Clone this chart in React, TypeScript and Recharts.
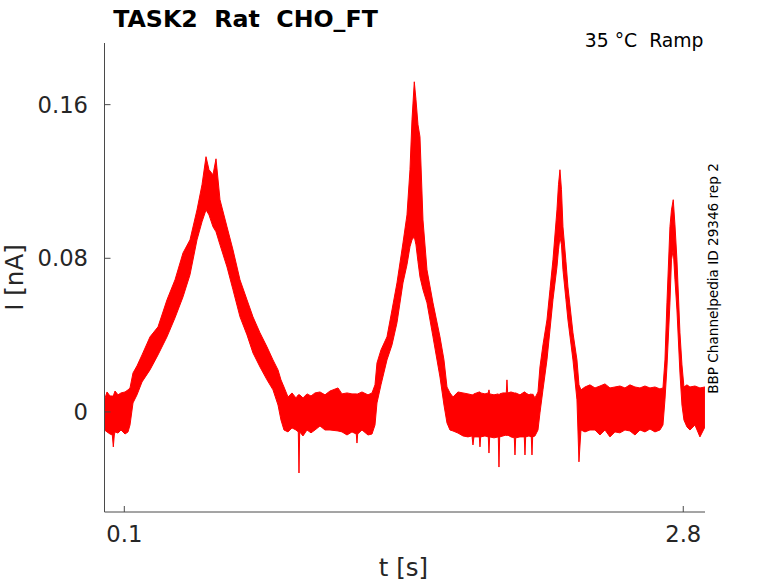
import React from "react";
import { ComposedChart, Area, XAxis, YAxis } from "recharts";

// time (s)
const tS = [
  0.0043, 0.0164, 0.0309, 0.042, 0.0469, 0.0517, 0.0551, 0.0696, 0.084, 0.1034, 0.1179, 0.1275,
  0.142, 0.1613, 0.1855, 0.2241, 0.2628, 0.3062, 0.3449, 0.3835, 0.4173, 0.4511, 0.4753, 0.4946,
  0.5091, 0.5284, 0.5429, 0.5622, 0.596, 0.625, 0.6588, 0.6926, 0.7216, 0.7554, 0.7892, 0.8182,
  0.8424, 0.8568,
  0.8713, 0.8907, 0.91, 0.9293, 0.9404, 0.9438, 0.9472, 0.9631, 0.9824, 1.0018, 1.0211, 1.0452,
  1.0694, 1.0935, 1.1322, 1.1515, 1.1757, 1.1998, 1.2205, 1.2239, 1.2273, 1.2481, 1.2771, 1.2964,
  1.3109,
  1.3205, 1.3398, 1.3688, 1.393, 1.4171, 1.4461, 1.4654, 1.4799, 1.4896, 1.5007, 1.5089, 1.5186,
  1.5282, 1.5427, 1.562, 1.591, 1.6248, 1.6441, 1.6586,
  1.6731, 1.6876, 1.7118, 1.7359, 1.7601, 1.7794, 1.7842, 1.789, 1.8147, 1.818, 1.8214, 1.8422,
  1.8581, 1.8615, 1.8649, 1.8857, 1.9064, 1.9098, 1.9132, 1.9291, 1.9451, 1.9484, 1.9518, 1.9677,
  1.9837, 1.9871, 1.9905, 2.0112, 2.0319, 2.0354, 2.0387, 2.0547, 2.0658, 2.0692, 2.0726, 2.0837,
  2.0982,
  2.1078, 2.1223, 2.1416, 2.1561, 2.1706, 2.1899, 2.1972, 2.2044, 2.2117, 2.2189, 2.2334, 2.243,
  2.2672, 2.2865, 2.2962, 2.3058, 2.3252, 2.3493, 2.3735, 2.3976, 2.4218, 2.4459, 2.4701, 2.4942,
  2.5184, 2.5425, 2.5667, 2.5908, 2.615, 2.6391, 2.6633, 2.6874, 2.7019, 2.7116, 2.7212, 2.7357,
  2.743, 2.7516, 2.7599, 2.7695, 2.784, 2.7937, 2.8033, 2.8178, 2.8323, 2.8565, 2.8806, 2.9048,
];

// upper envelope of the overlaid traces (nA)
const hiI = [
  0.0063, 0.0104, 0.0083, 0.0083, 0.0083, 0.0099, 0.0109, 0.0089, 0.0099, 0.0104, 0.0115, 0.0125,
  0.0203, 0.024, 0.0297, 0.0391, 0.0443, 0.0584, 0.0688, 0.0828, 0.0896, 0.1052, 0.1183, 0.1329,
  0.1261, 0.1235, 0.1318, 0.1105, 0.0964, 0.0844, 0.0688, 0.0584, 0.0495, 0.0412, 0.0339, 0.0271,
  0.0219, 0.0167,
  0.013, 0.0078, 0.0099, 0.0073, 0.0089, 0.0089, 0.0089, 0.0073, 0.0094, 0.0083, 0.0099, 0.0104,
  0.0089, 0.0109, 0.0125, 0.0094, 0.0099, 0.0094, 0.0094, 0.0094, 0.0094, 0.0104, 0.0089, 0.0099,
  0.0141,
  0.0255, 0.0323, 0.0391, 0.0531, 0.0672, 0.088, 0.1026, 0.1261, 0.1521, 0.1719, 0.1626, 0.1495,
  0.1433, 0.1, 0.074, 0.0568, 0.0391, 0.0271, 0.013,
  0.0099, 0.0078, 0.0104, 0.0099, 0.0094, 0.0089, 0.0089, 0.0094, 0.0104, 0.0104, 0.0099, 0.0094,
  0.0099, 0.0115, 0.0094, 0.0089, 0.0094, 0.0089, 0.0094, 0.0099, 0.0099, 0.0167, 0.0099, 0.0104,
  0.0099, 0.0099, 0.0099, 0.0089, 0.0104, 0.0104, 0.0099, 0.0089, 0.0094, 0.0089, 0.0094, 0.0073,
  0.0104,
  0.0234, 0.0349, 0.0479, 0.0636, 0.0792, 0.1052, 0.1183, 0.1261, 0.1157, 0.0964, 0.0782, 0.0651,
  0.0412, 0.0271, 0.0141, 0.0115, 0.013, 0.0141, 0.0125, 0.0135, 0.0146, 0.0125, 0.013, 0.0135,
  0.0125, 0.0141, 0.013, 0.0125, 0.0135, 0.0125, 0.013, 0.012, 0.0125, 0.0271, 0.0568, 0.0964,
  0.1052, 0.1105, 0.0974, 0.0792, 0.0412, 0.0245, 0.013, 0.0141, 0.013, 0.0135, 0.0125, 0.013,
];

// lower envelope of the overlaid traces (nA)
const loI = [
  -0.0094, -0.0104, -0.0115, -0.012, -0.0182, -0.012, -0.0104, -0.011, -0.0094, -0.0115, -0.0104, -0.0068,
  0.0047, 0.0089, 0.0156, 0.0219, 0.0297, 0.0391, 0.049, 0.0599, 0.0714, 0.0896, 0.099, 0.1052,
  0.1026, 0.0964, 0.0938, 0.087, 0.0755, 0.0636, 0.0495, 0.0401, 0.0307, 0.0234, 0.0167, 0.0115,
  0.0036, -0.0042,
  -0.0094, -0.0104, -0.0083, -0.0094, -0.0104, -0.0318, -0.0104, -0.0125, -0.0094, -0.0109, -0.0094, -0.0073,
  -0.0094, -0.0094, -0.0099, -0.0104, -0.012, -0.0104, -0.0115, -0.0162, -0.0115, -0.0094, -0.012, -0.0115,
  -0.0068,
  0.0047, 0.0141, 0.0271, 0.0349, 0.0464, 0.0672, 0.0766, 0.086, 0.0896, 0.0912, 0.087, 0.0782,
  0.0703, 0.0636, 0.0568, 0.0391, 0.0182, 0.0036, -0.0057,
  -0.0094, -0.0099, -0.011, -0.0125, -0.013, -0.0125, -0.0172, -0.013, -0.013, -0.0182, -0.013, -0.0125,
  -0.013, -0.0214, -0.013, -0.0135, -0.013, -0.0287, -0.013, -0.0125, -0.012, -0.0125, -0.012, -0.013,
  -0.0135, -0.0224, -0.0135, -0.013, -0.013, -0.0224, -0.013, -0.0125, -0.013, -0.0224, -0.013, -0.0125,
  -0.0094,
  -0.0005, 0.0115, 0.0271, 0.0427, 0.0584, 0.0755, 0.0844, 0.0912, 0.087, 0.074, 0.0584, 0.0479,
  0.0271, 0.0063, -0.026, -0.0094, -0.0104, -0.0094, -0.0094, -0.012, -0.0094, -0.013, -0.0104, -0.0109,
  -0.0094, -0.0099, -0.012, -0.0094, -0.0104, -0.0089, -0.0104, -0.0094, -0.0068, 0.0063, 0.0234, 0.0568,
  0.0792, 0.0844, 0.0688, 0.0531, 0.0203, 0.0036, -0.0042, -0.0078, -0.0094, -0.0068, -0.013, -0.0078,
];

const xTicks = [0.1, 2.8];
const yTicks = [0, 0.08, 0.16];
const xDomain = [0.0043, 2.905];
const yDomain = [-0.0521, 0.1921];

const data = tS.map((t, i) => ({ t, range: [loI[i], hiI[i]] }));

const FONT = "'DejaVu Sans', sans-serif";
const AXIS = "#4a4a4a";
const TXT = "#262626";

const YTick = (props: any) => {
  const { x, y, payload } = props;
  return (
    <g>
      <line x1={x} x2={x + 6} y1={y} y2={y} stroke={AXIS} strokeWidth={1} />
      <text x={x - 16.5} y={y} dy="0.36em" textAnchor="end" fontSize={22.7} fill={TXT} fontFamily={FONT}>
        {payload.value}
      </text>
    </g>
  );
};

const XTick = (props: any) => {
  const { x, y, payload } = props;
  return (
    <g>
      <line x1={x} x2={x} y1={y} y2={y - 6} stroke={AXIS} strokeWidth={1} />
      <text x={x} y={y + 29.5} textAnchor="middle" fontSize={22.7} fill={TXT} fontFamily={FONT}>
        {payload.value}
      </text>
    </g>
  );
};

export default function App() {
  return (
    <div style={{ position: "absolute", left: 0, top: 0, width: 778, height: 583, background: "#fff" }}>
      <ComposedChart
        width={778}
        height={583}
        data={data}
        margin={{ top: 43, right: 73, bottom: 0, left: 0 }}
      >
        <XAxis
          dataKey="t"
          type="number"
          domain={xDomain}
          ticks={xTicks}
          allowDataOverflow
          height={71}
          tickSize={0}
          tickMargin={0}
          tickLine={false}
          axisLine={{ stroke: AXIS, strokeWidth: 1 }}
          tick={<XTick />}
          interval={0}
        />
        <YAxis
          type="number"
          domain={yDomain}
          ticks={yTicks}
          allowDataOverflow
          width={104.5}
          tickSize={0}
          tickMargin={0}
          tickLine={false}
          axisLine={{ stroke: AXIS, strokeWidth: 1 }}
          tick={<YTick />}
          interval={0}
        />
        <Area
          type="linear"
          dataKey="range"
          stroke="#ff0000"
          strokeWidth={1}
          fill="#ff0000"
          fillOpacity={1}
          dot={false}
          activeDot={false}
          isAnimationActive={false}
        />
      </ComposedChart>
      <svg
        width={778}
        height={583}
        style={{ position: "absolute", left: 0, top: 0, pointerEvents: "none" }}
      >
        <text x={245.5} y={27} textAnchor="middle" fontSize={23.7} fontWeight="bold" fill="#000" fontFamily={FONT} style={{ whiteSpace: "pre" }}>
          {"TASK2  Rat  CHO_FT"}
        </text>
        <text x={703.5} y={46.5} textAnchor="end" fontSize={18.8} fill="#000" fontFamily={FONT} style={{ whiteSpace: "pre" }}>
          {"35 °C  Ramp"}
        </text>
        <text transform="translate(718,278.5) rotate(-90)" textAnchor="middle" fontSize={13.6} fill="#000" fontFamily={FONT}>
          BBP Channelpedia ID 29346 rep 2
        </text>
        <text transform="translate(22.5,277.5) rotate(-90)" textAnchor="middle" fontSize={24.5} fill={TXT} fontFamily={FONT}>
          I [nA]
        </text>
        <text x={403.5} y={576} textAnchor="middle" fontSize={24.5} fill={TXT} fontFamily={FONT}>
          t [s]
        </text>
      </svg>
    </div>
  );
}
